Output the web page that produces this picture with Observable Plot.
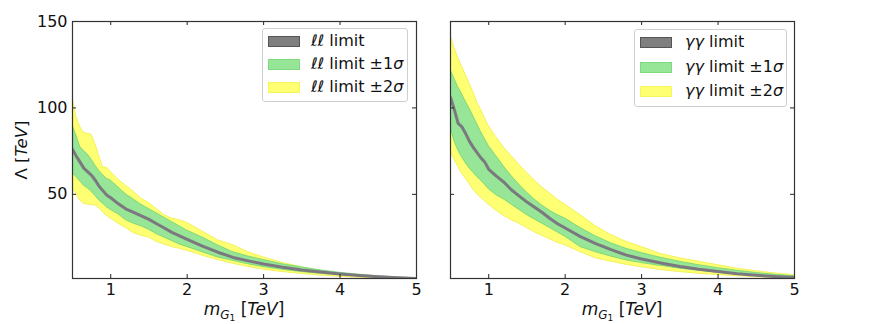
<!DOCTYPE html>
<html>
<head>
<meta charset="utf-8">
<script src="https://cdn.jsdelivr.net/npm/d3@7"></script>
<script src="https://cdn.jsdelivr.net/npm/@observablehq/plot@0.6"></script>
<style>
  html, body { margin: 0; padding: 0; background: white; }
  #wrap { position: relative; width: 872px; height: 324px; font-family: "DejaVu Sans", sans-serif; }
  .panel { position: absolute; top: 0; }
  .leg { position: absolute; box-sizing: border-box; border: 1px solid #cfcfcf; border-radius: 3px; background: rgba(255,255,255,0.85); }
  .patch { position: absolute; width: 32px; height: 11px; box-sizing: border-box; }
  .lab { position: absolute; white-space: nowrap; font-size: 16px; color: #111; line-height: 16px; }
</style>
</head>
<body>
<div id="wrap"></div>
<script>
// ---- data ----
const mass = [0.5,0.55,0.6,0.65,0.7,0.75,0.8,0.85,0.9,0.95,1.0,1.1,1.2,1.3,1.4,1.5,1.6,1.7,1.8,1.9,2.0,2.2,2.4,2.6,2.8,3.0,3.25,3.5,3.75,4.0,4.25,4.5,4.75,5.0];

// dilepton (ll) channel
const llMean = [76,72,68.5,65,63,61,58,54.5,52,49.5,48,44.5,41.5,39.5,37.5,35.5,33,30.5,28,26,24,20,16.5,13.5,11.5,9.7,7.8,6.2,5,3.9,3,2.3,1.7,1.3];
const llUp1  = [90,84,77.5,75,73,70,66.5,63.5,61,59,58,54,50,47,44,41.5,39,36.5,34,31.5,29,25,20.5,16.5,14,12,9.5,7.7,6,4.6,3.5,2.6,1.9,1.4];
const llDn1  = [62.5,60,57.5,55,53.5,51.5,49,46.5,44.5,42.5,41,38.5,35,33,31.5,29.5,27,25,23,21,19.5,16.5,13.5,11.5,9.5,7.9,6.3,5,4,3.2,2.5,1.9,1.5,1.2];
const llUp2  = [106,95,89,85.5,85,84.5,79,72,65.5,65.5,63,58.5,55,51.5,47.5,45,41.5,38,36,35,33.5,28.5,23.5,20.5,16.5,13.5,10.3,7.8,5.7,4,3,2.3,1.8,1.4];
const llDn2  = [54,50,46.5,44.5,44,43.8,43.5,42,39.5,37.5,36,33,30.5,27.5,26,25,22.5,21,19.5,18.5,17.4,14.5,12,9.8,8,6.4,5,3.9,3,2.3,1.8,1.5,1.3,1.2];

// diphoton (γγ) channel
const aaMean = [106,99,91,89,85,80.5,77,74,71,68.5,64.5,60.5,57,52.5,49,45.5,42.5,39.5,36,33,30.5,25.5,21.5,18,14.8,12.6,10.3,8.2,6.6,5.3,4.1,3.2,2.4,1.9];
const aaUp1  = [122,117,112,108,103.5,99.5,95,90.5,86,82,78,72,66,60.5,55.5,51,47,43.5,40.5,38,36,30.5,25.7,21.7,18.5,16,13.3,11,9,7.3,5.8,4.5,3.4,2.6];
const aaDn1  = [89,81,75.5,71.5,68,65,62.5,60,58,55.5,53,49.5,47,44,41,38,35.5,33,30.5,28,25.5,19.5,16.5,14,11.8,10.2,8.6,7,5.8,4.6,3.6,2.8,2.1,1.6];
const aaUp2  = [142,135,129,124,119,114,109,103,99,94,89.5,83,77,72,67,62.5,58,54,50.5,47,44,38,31.5,26.5,22.5,19.5,15.5,13,11,9,7,5.5,4.2,3.2];
const aaDn2  = [75,70,66,62,59,56,52.5,50,48,46,44,40.5,37.5,35,33,30.5,28,26,24,22,20.5,16.5,13,11,9.2,7.8,6.2,5,4,3.3,2.6,2,1.6,1.3];

const xTicks = [1,2,3,4,5];
const yTicks = [50,100,150];

// ---- build ----
const H = 324, MT = 21, MB = 46;
const yellow = "#ffff73", yellowEdge = "#eeee45";
const green = "#97e597", greenEdge = "#6ed46e";
const gray = "#7b7880";

function rowsOf(mean, u1, d1, u2, d2) {
  return mass.map((m, i) => ({m, mean: mean[i], u1: u1[i], d1: d1[i], u2: u2[i], d2: d2[i]}));
}

function panel(rows, {width, marginLeft, marginRight, yLabels}) {
  const fh = H - MT - MB;
  const fw = width - marginLeft - marginRight;
  const marks = [
    Plot.areaY(rows, {x: "m", y1: "d2", y2: "u2", fill: yellow, stroke: yellowEdge, strokeWidth: 0.8, clip: true}),
    Plot.areaY(rows, {x: "m", y1: "d1", y2: "u1", fill: green, stroke: greenEdge, strokeWidth: 0.8, clip: true}),
    Plot.lineY(rows, {x: "m", y: "mean", stroke: gray, strokeWidth: 3, clip: true}),
    Plot.tickX(xTicks, {x: d => d, insetTop: fh - 4, stroke: "#222"}),
    Plot.tickX(xTicks, {x: d => d, insetBottom: fh - 4, stroke: "#222"}),
    Plot.tickY(yTicks, {y: d => d, insetRight: fw - 4, stroke: "#222"}),
    Plot.tickY(yTicks, {y: d => d, insetLeft: fw - 4, stroke: "#222"}),
    Plot.frame({stroke: "#333", strokeWidth: 1.2}),
    Plot.axisX(xTicks, {tickSize: 0, tickPadding: 5, label: null, tickFormat: d => String(d), fontSize: 16})
  ];
  if (yLabels) marks.push(Plot.axisY(yTicks, {tickSize: 0, tickPadding: 5, label: null, fontSize: 16}));
  return Plot.plot({
    width, height: H, marginTop: MT, marginBottom: MB, marginLeft, marginRight,
    x: {domain: [0.5, 5]},
    y: {domain: [1.3, 150], axis: yLabels ? undefined : null},
    style: {fontFamily: "DejaVu Sans", fontSize: "16px", background: "transparent", color: "#111", overflow: "visible"},
    marks
  });
}

const wrap = document.getElementById("wrap");

const left = panel(rowsOf(llMean, llUp1, llDn1, llUp2, llDn2), {width: 430, marginLeft: 72, marginRight: 14, yLabels: true});
const right = panel(rowsOf(aaMean, aaUp1, aaDn1, aaUp2, aaDn2), {width: 442, marginLeft: 20, marginRight: 78, yLabels: false});
left.classList.add("panel"); left.style.left = "0px";
right.classList.add("panel"); right.style.left = "430px";
wrap.appendChild(left);
wrap.appendChild(right);

function xLabel(svg, cx) {
  const t = d3.select(svg).append("text")
    .attr("x", cx).attr("y", 315).attr("text-anchor", "middle")
    .attr("fill", "#111").attr("font-size", 17).attr("font-family", "DejaVu Sans");
  t.append("tspan").attr("font-style", "italic").text("m");
  t.append("tspan").attr("font-style", "italic").attr("font-size", 12).attr("dy", 4).text("G");
  t.append("tspan").attr("font-size", 9).attr("dy", 2).text("1");
  t.append("tspan").attr("font-size", 17).attr("dy", -6).text(" [");
  t.append("tspan").attr("font-style", "italic").text("TeV");
  t.append("tspan").text("]");
}
xLabel(left, 244);
xLabel(right, 192);

{
  const t = d3.select(left).append("text")
    .attr("transform", "translate(21,150) rotate(-90)")
    .attr("text-anchor", "middle").attr("dy", "0.35em")
    .attr("fill", "#111").attr("font-size", 16.5).attr("font-family", "DejaVu Sans");
  t.append("tspan").text("Λ [");
  t.append("tspan").attr("font-style", "italic").text("TeV");
  t.append("tspan").text("]");
}

// ---- legends ----
const legendItems = [
  {fill: "#7f7f7f", edge: "#555555", suffix: ""},
  {fill: green, edge: "#7cdc7c", suffix: " ±1<i>σ</i>"},
  {fill: yellow, edge: "#f6f65a", suffix: " ±2<i>σ</i>"}
];
function legend(box, rowCenters, patchX, textX, prefix) {
  const d = document.createElement("div");
  d.className = "leg";
  Object.assign(d.style, {left: box[0] + "px", top: box[1] + "px", width: box[2] + "px", height: box[3] + "px"});
  legendItems.forEach((it, i) => {
    const p = document.createElement("div");
    p.className = "patch";
    Object.assign(p.style, {left: patchX + "px", top: (rowCenters[i] - 6) + "px", background: it.fill, border: "1px solid " + it.edge});
    d.appendChild(p);
    const l = document.createElement("div");
    l.className = "lab";
    l.style.left = textX + "px";
    l.style.top = (rowCenters[i] - 9) + "px";
    l.innerHTML = prefix + " limit" + it.suffix;
    d.appendChild(l);
  });
  wrap.appendChild(d);
}
legend([262, 28, 146, 74], [13, 36, 59], 5, 48, "ℓℓ");
legend([634, 29, 153, 78], [13, 37.5, 61.5], 5, 50, "<i>γγ</i>");
</script>
</body>
</html>
